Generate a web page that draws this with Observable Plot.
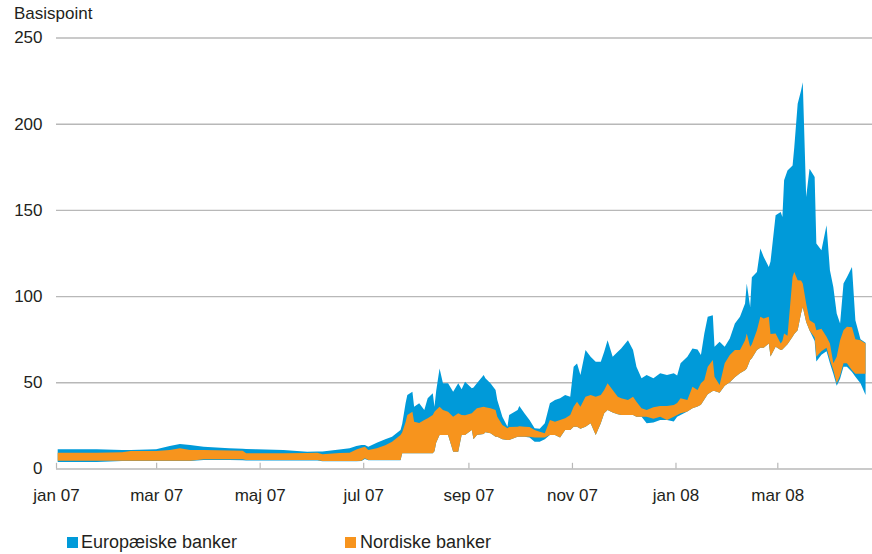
<!DOCTYPE html>
<html><head><meta charset="utf-8">
<script src="https://cdn.jsdelivr.net/npm/d3@7"></script>
<script src="https://cdn.jsdelivr.net/npm/@observablehq/plot@0.6"></script>
<style>
body{margin:0;background:#fff;font-family:"Liberation Sans",Arial,sans-serif;color:#231f20;}
#wrap{position:relative;width:872px;height:554px;overflow:hidden;}
#title{position:absolute;left:14px;top:5px;font-size:17px;line-height:17px;}
#chart{position:absolute;left:0;top:0;}
.lg{position:absolute;top:533px;font-size:18px;line-height:18px;white-space:nowrap;}
.sw{position:absolute;top:537px;width:11px;height:11px;}
</style>
</head><body>
<div id="wrap">
<div id="chart"></div>
<div id="title">Basispoint</div>
<div class="sw" id="sw0"></div><div class="lg" id="lg0"></div>
<div class="sw" id="sw1"></div><div class="lg" id="lg1"></div>
</div>
<script>
const seriesNames = ["Europæiske banker", "Nordiske banker"];
const seriesColors = ["#009ad9", "#f7941d"];
const yTicks = [0, 50, 100, 150, 200, 250];
const tickDates = ["2007-01-01","2007-03-01","2007-05-01","2007-07-01","2007-09-01","2007-11-01","2008-01-01","2008-03-01"];
const tickLabels = ["jan 07","mar 07","maj 07","jul 07","sep 07","nov 07","jan 08","mar 08"];

const dates = ["2007-01-02","2007-01-25","2007-02-09","2007-02-14","2007-03-01","2007-03-09","2007-03-15","2007-03-21","2007-03-29","2007-04-13",
"2007-04-21","2007-04-23","2007-04-29","2007-05-15","2007-05-29","2007-06-04","2007-06-07","2007-06-17","2007-06-23","2007-06-27",
"2007-06-30","2007-07-02","2007-07-04","2007-07-09","2007-07-14","2007-07-18","2007-07-23","2007-07-24","2007-07-26","2007-07-27",
"2007-07-30","2007-07-31","2007-08-03","2007-08-06","2007-08-08","2007-08-11","2007-08-12","2007-08-13","2007-08-15","2007-08-17",
"2007-08-20","2007-08-23","2007-08-26","2007-08-28","2007-08-30","2007-09-03","2007-09-04","2007-09-06","2007-09-10","2007-09-11",
"2007-09-14","2007-09-17","2007-09-18","2007-09-21","2007-09-24","2007-09-25","2007-09-30","2007-10-01","2007-10-04","2007-10-07",
"2007-10-10","2007-10-13","2007-10-16","2007-10-19","2007-10-22","2007-10-25","2007-10-28","2007-10-31","2007-11-02","2007-11-04",
"2007-11-06","2007-11-09","2007-11-12","2007-11-15","2007-11-18","2007-11-20","2007-11-22","2007-11-25","2007-11-28","2007-11-30",
"2007-12-04","2007-12-07","2007-12-09","2007-12-12","2007-12-15","2007-12-19","2007-12-23","2007-12-27","2007-12-31","2008-01-02",
"2008-01-04","2008-01-08","2008-01-11","2008-01-14","2008-01-16","2008-01-18","2008-01-20","2008-01-23","2008-01-24","2008-01-27",
"2008-01-30","2008-02-02","2008-02-05","2008-02-08","2008-02-11","2008-02-12","2008-02-14","2008-02-15","2008-02-18","2008-02-20",
"2008-02-22","2008-02-25","2008-02-26","2008-02-29","2008-03-03","2008-03-04","2008-03-05","2008-03-07","2008-03-10","2008-03-11",
"2008-03-13","2008-03-15","2008-03-16","2008-03-18","2008-03-20","2008-03-23","2008-03-24","2008-03-27","2008-03-30","2008-04-01",
"2008-04-03","2008-04-05","2008-04-07","2008-04-09","2008-04-11","2008-04-14","2008-04-16","2008-04-19","2008-04-22"];

const euLow = [3.8,3.8,4.3,4.3,4.3,4.3,4.3,4.3,5.0,5.0,
4.8,4.7,4.7,4.7,4.7,4.7,4.2,4.2,4.2,4.2,
4.3,5.5,4.8,4.8,4.8,4.8,4.8,8.8,8.8,8.8,
8.8,8.8,8.8,8.8,8.8,8.8,10.0,15.0,19.4,19.4,
19.4,9.7,9.7,19.4,19.4,22.3,17.0,19.4,20.0,21.0,
20.4,18.4,18.4,17.0,16.5,16.5,18.4,18.4,18.4,18.0,
15.5,15.5,17.0,19.4,19.4,18.0,22.3,22.3,24.2,24.2,
23.0,24.2,26.2,19.4,26.2,32.0,33.9,32.5,31.5,31.0,
31.0,31.0,30.0,30.0,26.2,26.7,28.1,28.1,27.3,30.0,
31.0,33.0,35.0,36.0,37.0,40.0,43.0,45.0,45.0,44.0,
48.0,50.0,53.0,55.2,57.0,58.0,62.9,64.0,68.7,70.0,
70.0,72.5,65.0,70.6,68.7,69.0,70.0,72.0,76.4,78.0,
80.2,90.0,93.7,85.0,80.0,74.0,62.0,66.0,68.0,61.0,
55.0,48.0,52.0,59.0,59.0,56.0,53.2,49.4,42.6];

const euHigh = [11.1,11.1,10.8,10.7,11.1,13.0,14.2,13.6,12.6,11.7,
11.4,11.3,11.1,10.7,9.7,9.8,9.8,11.0,11.7,13.0,
13.6,13.6,12.6,15.0,17.0,18.4,22.3,26.0,38.0,42.6,
44.5,35.8,37.8,33.9,40.8,43.7,35.8,45.0,58.0,49.4,
49.4,44.5,49.4,46.0,50.3,46.5,47.0,49.4,54.2,52.3,
49.4,45.5,39.7,30.0,24.2,31.0,33.9,36.2,32.0,28.1,
23.3,23.0,26.2,37.8,39.7,40.8,42.6,41.6,59.0,60.9,
54.2,68.7,64.8,61.9,61.9,67.7,74.4,64.8,67.7,69.6,
74.4,68.7,59.0,52.3,54.2,52.3,55.2,54.2,55.2,54.0,
61.0,64.8,69.6,69.0,65.8,78.3,88.0,88.9,70.6,73.5,
70.6,75.4,84.1,88.0,95.7,107.3,93.7,111.0,114.0,127.6,
122.7,116.9,120.0,146.9,148.8,145.9,167.2,172.9,175.8,186.4,
211.6,219.3,224.1,157.5,173.9,169.1,130.5,126.6,141.1,115.0,
105.3,89.9,84.1,107.3,111.0,116.9,86.0,75.0,73.0];

const noLow = [4.5,4.5,4.5,4.5,4.5,4.5,4.5,4.5,5.3,5.3,
5.3,4.9,4.9,4.9,4.9,4.9,4.3,4.3,4.3,4.3,
4.5,6.0,5.0,4.9,4.9,4.9,4.9,8.8,8.8,8.8,
8.8,8.8,8.8,8.8,8.8,8.8,10.0,15.0,19.4,19.4,
19.4,9.7,9.7,19.4,19.4,22.3,17.0,19.4,20.0,21.0,
20.4,18.4,18.4,17.0,16.5,16.5,18.4,18.4,18.4,18.4,
18.0,18.0,18.0,19.4,19.4,18.0,22.3,22.3,24.2,24.2,
23.0,24.2,26.2,19.4,26.2,32.0,33.9,32.5,31.5,31.0,
31.0,31.0,30.0,30.0,30.0,28.9,30.0,28.1,30.0,31.0,
32.0,33.0,35.0,36.0,37.0,40.0,43.0,45.0,45.0,44.0,
48.0,50.0,53.0,55.2,57.0,58.0,62.9,64.0,68.7,70.0,
70.0,72.5,65.0,70.6,68.7,69.0,70.0,72.0,76.4,78.0,
80.2,90.0,93.7,85.0,80.0,76.0,64.8,68.0,70.0,62.9,
57.1,49.4,54.0,61.0,61.0,57.0,55.0,55.0,55.0];

const noHigh = [9.2,9.2,9.4,10.1,10.1,10.7,11.7,10.7,10.7,10.5,
10.3,8.8,8.8,8.8,9.0,9.2,8.2,9.0,9.2,11.0,
12.1,12.6,10.7,11.7,13.5,15.5,19.4,21.0,27.0,31.0,
32.9,27.1,26.4,28.1,29.2,31.0,32.9,34.0,35.8,33.9,
32.9,30.0,32.0,31.0,30.9,32.0,33.0,34.9,35.8,35.5,
34.9,33.9,30.0,25.2,23.3,24.0,24.2,24.5,24.2,24.0,
22.3,21.3,20.4,28.1,27.1,28.1,29.2,31.0,35.8,38.7,
35.8,41.6,42.6,41.6,42.6,45.5,49.4,45.5,41.6,40.7,
39.7,41.6,38.7,34.9,33.9,35.5,36.2,36.2,36.8,38.0,
40.8,39.7,47.4,45.5,49.4,51.3,59.0,62.9,53.2,48.4,
61.0,65.8,68.7,68.7,74.4,78.3,70.6,72.0,80.2,88.0,
87.0,88.0,78.0,78.3,72.5,74.0,78.3,77.0,111.1,114.0,
109.2,109.0,107.3,95.7,86.0,84.1,80.2,81.0,76.4,72.5,
61.0,64.8,74.4,80.2,82.2,82.0,75.0,74.4,72.5];

const rows = dates.map((d, i) => ({date: new Date(d), euLow: euLow[i], euHigh: euHigh[i], noLow: noLow[i], noHigh: noHigh[i]}));
const ticks = tickDates.map(d => new Date(d));
const fmt = d => tickLabels[ticks.findIndex(t => +t === +d)];

const chart = Plot.plot({
  width: 872, height: 510,
  marginLeft: 56, marginRight: 0, marginTop: 37.5, marginBottom: 41.5,
  style: {fontFamily: '"Liberation Sans", Arial, sans-serif', fontSize: "17px", color: "#231f20", background: "#fff"},
  x: {type: "utc", domain: [new Date("2007-01-01"), new Date("2008-04-25T19:00Z")]},
  y: {domain: [0, 250]},
  marks: [
    Plot.ruleY(yTicks.filter(v => v > 0), {stroke: "#b8b8b8", strokeWidth: 1.4}),
    Plot.areaY(rows, {x: "date", y1: "euLow", y2: "euHigh", fill: seriesColors[0]}),
    Plot.areaY(rows, {x: "date", y1: "noLow", y2: "noHigh", fill: seriesColors[1]}),
    Plot.ruleY([0], {stroke: "#b8b8b8", strokeWidth: 1.4}),
    Plot.ruleX(ticks, {x: d => d, y1: 0, y2: 3.3, stroke: "#b8b8b8", strokeWidth: 1.2}),
    Plot.axisY({ticks: yTicks, tickSize: 0, tickPadding: 14, label: null}),
    Plot.axisX({ticks: ticks, tickFormat: fmt, tickSize: 0, tickPadding: 20, label: null})
  ]
});
document.getElementById("chart").appendChild(chart);

const swX = [67, 345], lgX = [81, 360];
[0, 1].forEach(i => {
  const sw = document.getElementById("sw" + i);
  sw.style.left = swX[i] + "px"; sw.style.background = seriesColors[i];
  const lg = document.getElementById("lg" + i);
  lg.style.left = lgX[i] + "px"; lg.textContent = seriesNames[i];
});
</script>
</body></html>
